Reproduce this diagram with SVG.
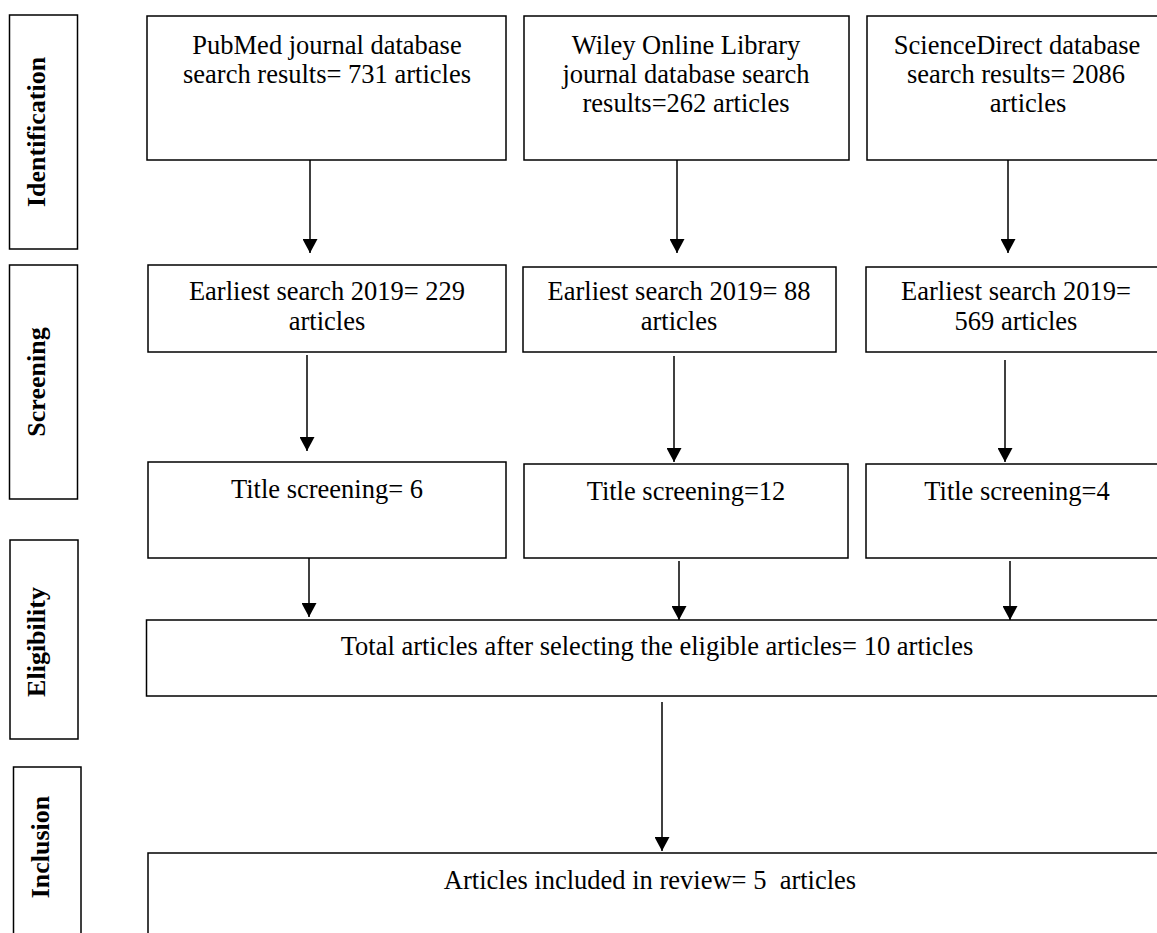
<svg xmlns="http://www.w3.org/2000/svg" width="1157" height="933" viewBox="0 0 1157 933">
<style>
.box{fill:#fff;stroke:#000;stroke-width:1.5}
.t{font-family:"Liberation Serif","Times New Roman",serif;font-size:26.5px;fill:#000;text-anchor:middle;white-space:pre}
.lbl{font-family:"Liberation Serif","Times New Roman",serif;font-size:26px;font-weight:bold;fill:#000;text-anchor:middle}
.c{stroke:#000;stroke-width:1.5;fill:none;marker-end:url(#ah)}
</style>
<defs>
<marker id="ah" markerUnits="userSpaceOnUse" markerWidth="15" markerHeight="15" refX="14" refY="7.5" orient="auto">
<path d="M0,0 L14,7.5 L0,15 z" fill="#000"/>
</marker>
</defs>
<g id="stage-identification"><rect class="box" x="9.5" y="15" width="68" height="234"/><text class="lbl" transform="translate(45,132) rotate(-90)">Identification</text></g>
<g id="stage-screening"><rect class="box" x="9.5" y="265" width="68" height="234"/><text class="lbl" transform="translate(45,382) rotate(-90)">Screening</text></g>
<g id="stage-eligibility"><rect class="box" x="10" y="540" width="68" height="199"/><text class="lbl" transform="translate(45,642) rotate(-90)">Eligibility</text></g>
<g id="stage-inclusion"><rect class="box" x="13.5" y="767" width="67.5" height="180"/><text class="lbl" transform="translate(49,847) rotate(-90)">Inclusion</text></g>

<g id="pubmed"><rect class="box" x="147" y="16" width="359" height="144"/><text class="t" x="327" y="54">PubMed journal database</text><text class="t" x="327" y="83">search results= 731 articles</text></g>
<g id="wiley"><rect class="box" x="524" y="16" width="325" height="144"/><text class="t" x="686" y="54">Wiley Online Library</text><text class="t" x="686" y="83">journal database search</text><text class="t" x="686" y="112">results=262 articles</text></g>
<g id="sciencedirect"><rect class="box" x="867" y="16" width="300" height="144"/><text class="t" x="1017" y="54">ScienceDirect database</text><text class="t" x="1016" y="83">search results= 2086</text><text class="t" x="1028" y="112">articles</text></g>

<g id="pubmed-2019"><rect class="box" x="148" y="265" width="358" height="87"/><text class="t" x="327" y="300">Earliest search 2019= 229</text><text class="t" x="327" y="330">articles</text></g>
<g id="wiley-2019"><rect class="box" x="523" y="267" width="313" height="85"/><text class="t" x="679" y="300">Earliest search 2019= 88</text><text class="t" x="679" y="330">articles</text></g>
<g id="sd-2019"><rect class="box" x="866" y="267" width="300" height="85"/><text class="t" x="1016" y="300">Earliest search 2019=</text><text class="t" x="1016" y="330">569 articles</text></g>

<g id="pubmed-title"><rect class="box" x="148" y="462" width="358" height="96"/><text class="t" x="327" y="498">Title screening= 6</text></g>
<g id="wiley-title"><rect class="box" x="524" y="464" width="324" height="94"/><text class="t" x="686" y="500">Title screening=12</text></g>
<g id="sd-title"><rect class="box" x="866" y="464" width="300" height="94"/><text class="t" x="1017" y="500">Title screening=4</text></g>

<g id="eligible"><rect class="box" x="146.5" y="620" width="1020" height="76"/><text class="t" x="657" y="655">Total articles after selecting the eligible articles= 10 articles</text></g>
<g id="included"><rect class="box" x="148" y="853" width="1020" height="100"/><text class="t" x="650" y="889">Articles included in review= 5  articles</text></g>

<g id="connectors">
<line class="c" x1="310" y1="160" x2="310" y2="253"/>
<line class="c" x1="677" y1="160" x2="677" y2="253"/>
<line class="c" x1="1008" y1="160" x2="1008" y2="253"/>
<line class="c" x1="307" y1="355" x2="307" y2="451"/>
<line class="c" x1="674" y1="356" x2="674" y2="462"/>
<line class="c" x1="1005" y1="360" x2="1005" y2="462"/>
<line class="c" x1="309" y1="558" x2="309" y2="617"/>
<line class="c" x1="679" y1="561" x2="679" y2="620"/>
<line class="c" x1="1010" y1="561" x2="1010" y2="620"/>
<line class="c" x1="662" y1="702" x2="662" y2="851"/>
</g>
</svg>
